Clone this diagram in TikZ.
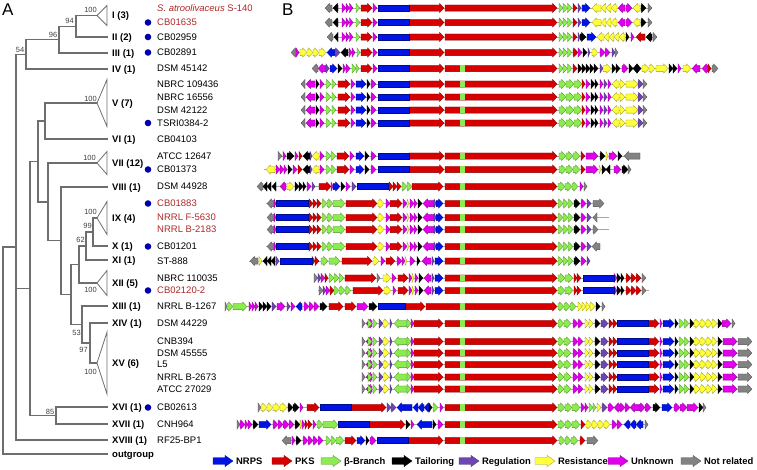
\documentclass[tikz,border=0pt]{standalone}
\usepackage{fontspec}
\setmainfont{Liberation Sans}
\usepackage{xcolor}
\usepackage{tikz}
\definecolor{nrps}{RGB}{0,20,230}
\definecolor{pks}{RGB}{215,0,0}
\definecolor{bbr}{RGB}{140,235,80}
\definecolor{tail}{RGB}{0,0,0}
\definecolor{regul}{RGB}{110,70,180}
\definecolor{resist}{RGB}{255,255,60}
\definecolor{unkn}{RGB}{225,0,235}
\definecolor{notrel}{RGB}{130,130,130}
\definecolor{strainred}{RGB}{175,40,40}
\definecolor{dotblue}{RGB}{0,0,175}
\definecolor{treegray}{RGB}{110,110,110}

\tikzset{
  genebody/.style={fill=#1, draw=#1!60!black, line width=0.3pt},
  backbone/.style={draw=gray!70, line width=0.6pt},
  treeline/.style={draw=treegray, line width=1.1pt},
  cladelab/.style={anchor=west, inner sep=0pt, font=\fontsize{9.5}{11}\selectfont\bfseries, text height=6.8pt, text depth=0pt},
  strain/.style={anchor=west, inner sep=0pt, font=\fontsize{9.5}{11}\selectfont, text height=6.8pt, text depth=0pt},
  boot/.style={inner sep=0pt, font=\fontsize{7.5}{8}\selectfont, text=black!75, text height=5.4pt, text depth=0pt},
  legtext/.style={anchor=west, inner sep=0pt, font=\fontsize{9.4}{11}\selectfont\bfseries, text height=6.7pt, text depth=0pt},
  panel/.style={anchor=base west, inner sep=0pt, font=\fontsize{17}{19}\selectfont},
  strdot/.style={circle, fill=dotblue, inner sep=0pt, minimum size=6.6pt},
}

% one gene: row, tail x, tip x, colour
\newcommand{\gene}[4]{%
  \pgfmathsetmacro{\gm}{#3-(#3>#2 ? 1 : -1)*min(4.5,abs(#3-#2))}%
  \filldraw[genebody=#4] (#2,#1-3.1) -- (\gm,#1-3.1) -- (\gm,#1-4.6) -- (#3,#1) -- (\gm,#1+4.6) -- (\gm,#1+3.1) -- (#2,#1+3.1) -- cycle;}
\newcommand{\genes}[2]{\foreach \gtail/\gtip/\gcol in {#2} {\gene{#1}{\gtail}{\gtip}{\gcol}}}
\newcommand{\cluster}[4]{\draw[backbone] (#2,#1) -- (#3,#1);
  \foreach \gtail/\gtip/\gcol in #4 {\gene{#1}{\gtail}{\gtip}{\gcol}}}
\newcommand{\nrpsblock}[3]{\filldraw[genebody=nrps] (#2,#1-3.1) rectangle (#3,#1+3.1);}
\newcommand{\kssq}[1]{\fill[bbr] (460,#1-3.1) rectangle (464.5,#1+3.1);}
\newcommand{\legarrow}[3]{\filldraw[genebody=#3] (#1,#2-3.3) -- (#1+12,#2-3.3) -- (#1+12,#2-5.6) -- (#1+20,#2) -- (#1+12,#2+5.6) -- (#1+12,#2+3.3) -- (#1,#2+3.3) -- cycle;}

% gene clusters
\def\clusterA{332/325/notrel, 338/333/tail, 342/346/unkn, 346/349.5/unkn, 349.5/353/unkn, 356/360/bbr, 361/372/pks, 373/377/unkn, 409/444/pks, 445/557/pks, 559/563/bbr, 563/567.5/bbr, 567.5/572/bbr, 573/577/pks, 578/581/regul, 582/590/nrps, 601/592/resist, 606/601/resist, 611/606/resist, 617/611/resist, 625/618/unkn, 626/632/unkn, 640/633/resist, 641/646/tail, 648/652/notrel}
\def\clusterB{333/327/notrel, 338/334/tail, 342/346/unkn, 346/349.5/unkn, 349.5/353/unkn, 356/360/bbr, 361/372/pks, 373/377/unkn, 409/444/pks, 445/557/pks, 559/563/bbr, 563/567.5/bbr, 567.5/572/bbr, 573/577/pks, 578/580/regul, 580/586/tail, 587/596/nrps, 604/597/resist, 609/604/resist, 614/609/resist, 619/614/resist, 625/619/resist, 626/629/tail, 631/634/unkn, 645/636/pks, 652/646/tail, 653/657/notrel}
\def\clusterC{296/291/notrel, 296/299/unkn, 300/307/resist, 307/313/resist, 313/319/resist, 319/326/resist, 335/327/nrps, 335/340/regul, 348/341/tail, 349/352/unkn, 352/355/unkn, 357/360/bbr, 361/372/pks, 373/377/unkn, 409/444/pks, 445/557/pks, 559/563/bbr, 563/567.5/bbr, 567.5/572/bbr, 573/578/pks, 578/582/unkn, 583/587/tail, 588/590/regul, 592/598/resist, 600/605/unkn, 605/610/unkn, 612/615/regul, 615/618/notrel}
\def\clusterD{318/312/notrel, 326/318/unkn, 326/329/regul, 330/337/nrps, 338/342/tail, 343/346/unkn, 346/350/unkn, 352/356/bbr, 356/359/bbr, 361/372/pks, 373/377/unkn, 409/444/pks, 445/557/pks, 559/563/bbr, 563/567.5/bbr, 567.5/572/bbr, 573/577/pks, 578/582/tail, 582/586/tail, 586/590/tail, 590/594/tail, 594/598/tail, 600/603/regul, 603/611/resist, 612/616/tail, 616/620/tail, 622/628/unkn, 629/633/tail, 637/633/tail, 637/641/tail, 642/649/resist, 649/655/resist, 656/668/resist, 669/673/tail, 673/677/tail, 678/681/unkn, 683/691/resist, 700/692/unkn, 708/702/unkn, 708/711/pks, 712/718/notrel}
\def\clusterE{305/301/notrel, 315/306/unkn, 316/319/tail, 320/324/unkn, 326/331/bbr, 332/336/bbr, 338/350/pks, 351/355/unkn, 356/366/nrps, 367/370/tail, 371/376/unkn, 409/444/pks, 445/557/pks, 559/566/bbr, 566/574/bbr, 574/582/bbr, 582/585/pks, 586/590/unkn, 591/595/tail, 595/598/tail, 600/603/unkn, 604/607/regul, 608/611/unkn, 619/612/resist, 620/625/resist, 626/638/resist, 638/643/regul, 643/647/notrel}
\def\clusterFa{278/282/notrel, 283/286/unkn, 287/294/tail, 295/298/unkn, 299/302/pks, 310/303/tail, 310/312/regul, 319/312/resist, 320/324/unkn, 326/331/bbr, 331/336/bbr, 337/349/pks, 350/354/unkn, 356/364/nrps, 365/369/tail, 371/376/unkn, 409/444/pks, 445/557/pks, 559/566/bbr, 566/573/bbr, 573/580/bbr, 581/585/pks, 586/598/unkn, 600/605/tail, 606/608/resist, 609/617/unkn, 618/622/tail, 640/624/notrel}
\def\clusterFb{275/266/resist, 276/280/unkn, 280/284/unkn, 284/287/unkn, 288/292/tail, 293/297/unkn, 298/302/pks, 310/303/tail, 310/312/regul, 319/312/resist, 320/324/unkn, 326/331/bbr, 331/336/bbr, 337/349/pks, 350/354/unkn, 356/364/nrps, 365/369/tail, 371/376/unkn, 409/444/pks, 445/557/pks, 559/566/bbr, 566/573/bbr, 573/580/bbr, 581/585/pks, 586/598/unkn, 599/601/resist, 602/606/tail, 610/606/tail, 614/621/unkn, 622/628/tail, 628/631/notrel}
\def\clusterG{263/257/notrel, 267/263/tail, 271/267/tail, 276/272/tail, 286/280/unkn, 287/294/resist, 295/299/tail, 299/303/tail, 303/306/tail, 307/311/unkn, 312/315/regul, 319/331/pks, 331/333/unkn, 333/340/nrps, 341/345/tail, 346/350/unkn, 352/356/regul, 389/393/pks, 393/397/pks, 397/401/pks, 402/407/bbr, 407/412/bbr, 412/443/pks, 445/557/pks, 558/565/bbr, 565/572/bbr, 572/578/bbr, 580/583/unkn, 584/587/notrel}
\def\clusterH{274/267/notrel, 274/276/unkn, 309/313/pks, 313/317/pks, 317/321/pks, 322/327/bbr, 327/333/bbr, 333/345/bbr, 346/377/pks, 378/384/resist, 386/390/unkn, 390/402/pks, 403/407/unkn, 407/409/resist, 410/414/unkn, 414/417/unkn, 418/422/tail, 434/423/unkn, 434/436/regul, 436/443/nrps, 445/557/pks, 558/563/bbr, 563/568/bbr, 568/573/bbr, 574/580/tail, 581/586/unkn, 587/591/regul}
\def\clusterI{258/250/notrel, 259/262/resist, 267/263/tail, 271/267/tail, 275/271/tail, 276/279/regul, 312/315/pks, 315/319/pks, 321/328/bbr, 329/340/bbr, 342/372/pks, 373/379/resist, 381/385/unkn, 386/395/pks, 397/402/unkn, 402/405/unkn, 405/407/resist, 410/415/unkn, 417/420/tail, 431/422/unkn, 432/434/regul, 435/443/nrps, 445/557/pks, 558/563/bbr, 563/568/bbr, 568/573/bbr, 574/580/tail, 581/586/unkn, 587/590/regul}
\def\clusterJ{398/408/pks, 409/412/unkn, 412/414/resist, 415/418/unkn, 419/423/tail, 431/424/unkn, 432/434/regul, 435/443/nrps, 445/557/pks, 558/565/bbr, 565/573/bbr, 574/577/pks, 577/581/pks, 614/617/unkn, 617/621/tail, 621/624/tail, 626/631/pks, 631/636/pks, 636/641/pks, 642/646/notrel}
\def\clusterK{225/227/notrel, 227/233/bbr, 233/247/bbr, 249/252/unkn, 252/255/unkn, 255/258/unkn, 259/263/tail, 263/267/tail, 267/271/tail, 272/276/regul, 277/285/unkn, 287/290/regul, 291/295/unkn, 302/296/nrps, 304/309/unkn, 309/314/unkn, 314/319/unkn, 320/327/tail, 329/343/pks, 345/356/pks, 357/368/unkn, 369/377/tail, 405/425/pks, 426/557/pks, 558/564/bbr, 564/570/bbr, 570/576/bbr, 578/582/resist, 582/586/resist, 586/590/resist, 590/595/resist, 596/600/tail, 602/605/notrel}
\def\clusterL{362/365/notrel, 372/366/unkn, 368/372/bbr, 373/377/bbr, 379/383/regul, 383/389/resist, 390/392/regul, 407/394/bbr, 407/411/bbr, 411/414/unkn, 414/443/pks, 445/557/pks, 558/564/bbr, 564/571/bbr, 573/578/unkn, 578/583/unkn, 585/589/resist, 589/593/resist, 595/600/tail, 601/608/regul, 609/613/pks, 613/617/pks, 649/659/pks, 660/662/unkn, 663/674/nrps, 675/678/tail, 679/684/bbr, 684/689/bbr, 690/694/tail, 694/700/resist, 700/706/resist, 706/712/resist, 712/717/resist, 718/722/tail}
\def\clusterM{258/261/notrel, 261/267/resist, 267/273/resist, 273/280/resist, 280/287/resist, 288/293/tail, 293/299/tail, 300/303/unkn, 307/319/pks, 351/386/pks, 387/391/regul, 391/396/regul, 412/397/nrps, 418/413/nrps, 424/418/nrps, 429/424/nrps, 429/432/tail, 433/438/bbr, 440/443/unkn, 445/557/pks, 558/565/bbr, 565/572/bbr, 572/580/bbr, 581/585/unkn, 585/588/unkn, 589/593/bbr, 593/596/bbr, 597/601/resist, 602/607/regul, 608/614/unkn, 620/614/unkn, 620/625/unkn, 625/630/unkn, 640/630/unkn, 640/645/unkn, 645/651/unkn, 653/660/tail, 662/672/nrps, 674/680/unkn, 680/687/unkn, 687/698/unkn, 699/703/tail, 703/706/notrel}
\def\clusterN{237/240/notrel, 240/245/unkn, 245/248/unkn, 248/252/unkn, 253/258/tail, 259/271/nrps, 273/278/unkn, 278/283/unkn, 283/289/unkn, 289/294/unkn, 295/300/tail, 300/302/resist, 302/305/unkn, 305/308/pks, 308/312/pks, 313/316/unkn, 317/323/bbr, 323/338/bbr, 369/405/pks, 406/410/tail, 411/414/unkn, 432/417/nrps, 433/436/tail, 438/443/unkn, 445/557/pks, 558/565/bbr, 565/572/bbr, 572/580/bbr, 581/585/pks, 586/592/resist, 592/598/resist, 598/604/resist, 604/610/resist, 612/617/unkn, 617/622/unkn, 630/624/nrps, 636/630/nrps, 643/636/nrps, 645/648/notrel}
\def\clusterO{291/282/notrel, 292/295/unkn, 296/301/tail, 303/308/unkn, 308/313/unkn, 313/318/unkn, 318/323/unkn, 326/331/bbr, 331/336/bbr, 336/344/bbr, 345/356/pks, 357/365/nrps, 366/369/tail, 370/376/unkn, 408/443/pks, 445/557/pks, 559/565/bbr, 565/571/bbr, 571/578/bbr, 580/585/pks, 587/598/notrel}

\begin{document}
\begin{tikzpicture}[x=1pt, y=-1pt]
    \useasboundingbox (0,0) rectangle (757,469);
    \node[panel] (panelA) at (2,15) {A};
    \node[panel] (panelB) at (282,15) {B};

    % tree tips and inner nodes
    \coordinate (tI) at (97,15.5);
    \coordinate (tII) at (108,37);
    \coordinate (tIII) at (108,53);
    \coordinate (tIV) at (108,69);
    \coordinate (tV) at (97,103);
    \coordinate (tVI) at (108,139);
    \coordinate (tVII) at (97,163);
    \coordinate (tVIII) at (108,187);
    \coordinate (tIX) at (97,218);
    \coordinate (tX) at (108,246);
    \coordinate (tXI) at (108,260);
    \coordinate (tXII) at (97,283);
    \coordinate (tXIII) at (108,306);
    \coordinate (tXIV) at (108,323);
    \coordinate (tXV) at (97,363);
    \coordinate (tXVI) at (108,407);
    \coordinate (tXVII) at (108,424);
    \coordinate (tXVIII) at (108,440);
    \coordinate (tout) at (108,454);
    \coordinate (n94) at (76,26.25);
    \coordinate (n96) at (59,39.6);
    \coordinate (n54) at (26,54.3);
    \coordinate (nVVI) at (45,121);
    \coordinate (n99) at (93,232);
    \coordinate (n62) at (86,246);
    \coordinate (nXII) at (79,264.5);
    \coordinate (n97) at (90,343);
    \coordinate (n53) at (82,324.5);
    \coordinate (nB) at (71,294.5);
    \coordinate (nC) at (61,240.75);
    \coordinate (nD) at (48,202);
    \coordinate (nE) at (38,161.5);
    \coordinate (n85) at (56,415.5);
    \coordinate (nF) at (30,288.5);
    \coordinate (nG) at (16,247);
    \coordinate (root) at (3,350.5);

    \foreach \p/\c in {n94/tI, n94/tII, n96/n94, n96/tIII, n54/n96, n54/tIV,
        nVVI/tV, nVVI/tVI, n99/tIX, n99/tX, n62/n99, n62/tXI, nXII/n62, nXII/tXII,
        n97/tXIV, n97/tXV, n53/tXIII, n53/n97, nB/nXII, nB/n53, nC/tVIII, nC/nB,
        nD/tVII, nD/nC, nE/nVVI, nE/nD, n85/tXVI, n85/tXVII, nF/nE, nF/n85,
        nG/n54, nG/nF, nG/tXVIII, root/nG, root/tout}
        \draw[treeline] (\p) |- (\c);

    % collapsed clades
    \foreach \t/\h in {tI/10, tV/23.5, tVII/11.5, tIX/16.5, tXII/12.5, tXV/31}
        \draw[treeline, line width=0.8pt, line join=miter] (\t) -- ++(10,-\h) -- ++(0,{2*\h}) -- cycle;

    % bootstrap values
    \foreach \n/\a/\x/\y/\t in {I/south east/97/13/100, 94/south east/74/23.5/94,
        96/south east/57.5/37.5/96, 54/south east/24.5/52.5/54, V/south east/97/101.5/100,
        VII/south east/96/160.5/100, IX/south east/97/214.5/100, 99/south east/92/228.5/99,
        62/south east/85/243/62, XII/north east/97/286.5/100, 53/north east/81/329.5/53,
        97/north east/88/346.5/97, XV/north east/97/368.5/100, 85/south east/54.5/414.5/85}
        \node[boot, anchor=\a] (b\n) at (\x,\y) {\t};

    % clade labels
    \foreach \n/\y/\t in {I/15.5/I (3), II/37/II (2), III/53/III (1), IV/69/IV (1),
        V/103/V (7), VI/139/VI (1), VII/163/VII (12), VIII/187/VIII (1), IX/218/IX (4),
        X/246/X (1), XI/260/XI (1), XII/283/XII (5), XIII/306/XIII (1), XIV/323/XIV (1),
        XV/363/XV (6), XVI/407/XVI (1), XVII/424/XVII (1), XVIII/440/XVIII (1), out/454/outgroup}
        \node[cladelab] (c\n) at (112,\y) {\t};

    % strains
    \foreach \n/\y/\c/\t in {1/8/strainred/{\textit{S. atroolivaceus} S-140}, 2/22.5/strainred/CB01635,
        3/37/black/CB02959, 4/52.5/black/CB02891, 5/68.5/black/DSM 45142, 6/84/black/NBRC 109436,
        7/97/black/NBRC 16556, 8/110/black/DSM 42122, 9/123/black/TSRI0384-2, 9b/139/black/CB04103,
        10/156/black/ATCC 12647, 11/169.5/black/CB01373, 12/186.5/black/DSM 44928,
        13/203.5/strainred/CB01883, 14/217.5/strainred/NRRL F-5630, 15/229.5/strainred/NRRL B-2183,
        16/246.5/black/CB01201, 17/261/black/ST-888, 18/278/black/NBRC 110035,
        19/290.5/strainred/CB02120-2, 20/306.5/black/NRRL B-1267, 21/323.5/black/DSM 44229,
        22/341.5/black/CNB394, 23/353/black/DSM 45555, 24/364.5/black/L5, 25/377/black/NRRL B-2673,
        26/389/black/ATCC 27029, 27/407.5/black/CB02613, 28/424.5/black/CNH964, 29/440.5/black/RF25-BP1}
        \node[strain, text=\c] (s\n) at (157,\y) {\t};
    \foreach \n/\y in {2/22.5, 3/37, 4/52.5, 9/123, 11/169.5, 13/203.5, 16/246.5, 19/290.5, 27/407.5}
        \node[strdot] (d\n) at (148,\y) {};

    % panel B
    \cluster{8}{325}{652}{\clusterA} \nrpsblock{8}{378}{409}
    \cluster{22.5}{325}{652}{\clusterA} \nrpsblock{22.5}{378}{409}
    \cluster{37}{327}{657}{\clusterB} \nrpsblock{37}{378}{409}
    \cluster{52.5}{291}{618}{\clusterC} \nrpsblock{52.5}{378}{409}
    \cluster{68.5}{312}{718}{\clusterD} \nrpsblock{68.5}{378}{409} \kssq{68.5}
    \foreach \ry in {84,97,110,123} {\cluster{\ry}{301}{647}{\clusterE} \nrpsblock{\ry}{378}{409} \kssq{\ry}}
    \cluster{156}{278}{640}{\clusterFa} \nrpsblock{156}{378}{409} \kssq{156}
    \cluster{169.5}{264}{631}{\clusterFb} \nrpsblock{169.5}{378}{409} \kssq{169.5}
    \cluster{186.5}{257}{587}{\clusterG} \nrpsblock{186.5}{357}{388} \kssq{186.5}
    \foreach \ry/\rs/\re in {203.5/266/604, 217.5/268/609, 229.5/268/609, 246.5/266/600}
        {\cluster{\ry}{\rs}{\re}{\clusterH} \nrpsblock{\ry}{276}{308} \kssq{\ry}}
    \genes{203.5}{593/604/notrel}
    \genes{217.5}{597/593/notrel}
    \genes{229.5}{593/598/notrel}
    \genes{246.5}{600/592/notrel}
    \cluster{261}{249}{590}{\clusterI} \nrpsblock{261}{280}{312} \kssq{261}
    \cluster{278}{314}{646}{\clusterJ} \nrpsblock{278}{583}{614} \kssq{278}
    \genes{278}{314/318/notrel, 318/321/regul, 321/325/unkn, 325/328/pks, 329/334/bbr, 334/339/bbr, 339/344/bbr, 345/376/pks, 377/380/notrel, 383/391/resist, 392/396/unkn}
    \cluster{290.5}{318}{649}{\clusterJ} \nrpsblock{290.5}{583}{614} \kssq{290.5}
    \genes{290.5}{319/323/notrel, 323/326/regul, 326/330/unkn, 330/334/pks, 334/339/bbr, 339/345/bbr, 345/351/bbr, 353/383/pks, 384/391/resist, 393/396/unkn}
    \cluster{306.5}{225}{605}{\clusterK} \nrpsblock{306.5}{378}{405} \kssq{306.5}
    \cluster{323.5}{362}{735}{\clusterL} \nrpsblock{323.5}{617}{648} \kssq{323.5}
    \genes{323.5}{722/731/unkn, 732/735/notrel}
    \foreach \ry in {341.5,353,364.5,377,389} {\cluster{\ry}{362}{752}{\clusterL} \nrpsblock{\ry}{617}{648} \kssq{\ry}
        \genes{\ry}{723/737/unkn, 738/752/notrel}}
    \cluster{407.5}{258}{706}{\clusterM} \nrpsblock{407.5}{320}{351} \kssq{407.5}
    \cluster{424.5}{237}{648}{\clusterN} \nrpsblock{424.5}{338}{369} \kssq{424.5}
    \cluster{440.5}{282}{598}{\clusterO} \nrpsblock{440.5}{377}{408} \kssq{440.5}

    % legend
    \foreach \x/\c/\t in {213/nrps/NRPS, 272/pks/PKS, 321/bbr/β-Branch, 392/tail/Tailoring,
        459/regul/Regulation, 535/resist/Resistance, 608/unkn/Unknown, 681/notrel/Not related} {
        \legarrow{\x}{461}{\c}
        \node[legtext] (leg-\c) at (\x+23,461) {\t};
    }
\end{tikzpicture}
\end{document}
